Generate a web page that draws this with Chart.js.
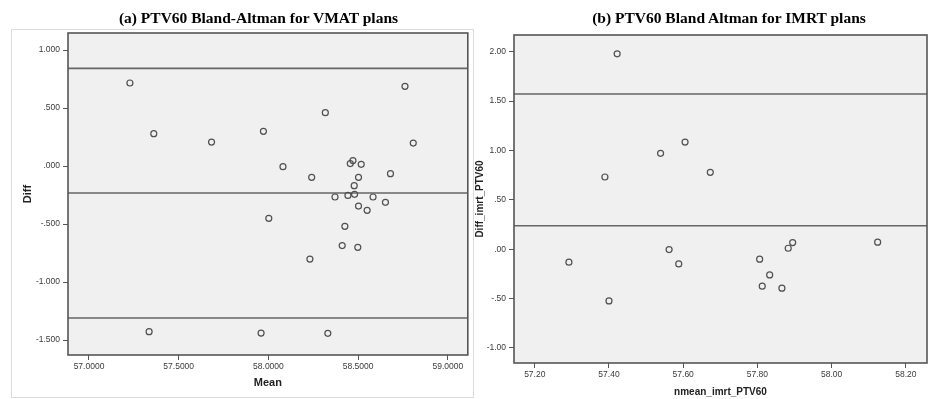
<!DOCTYPE html>
<html>
<head>
<meta charset="utf-8">
<script src="https://cdn.jsdelivr.net/npm/chart.js@4.4.0/dist/chart.umd.min.js"></script>
<style>
  html, body { margin: 0; padding: 0; background: #ffffff; }
  #wrap { position: relative; width: 935px; height: 399px; overflow: hidden; background: #fff; }
  canvas { position: absolute; top: 0; }
  .title { position: absolute; top: 10px; font-family: "Liberation Serif", "Times New Roman", serif; font-weight: bold; font-size: 15.5px; line-height: 15px; text-align: center; color: #000; white-space: nowrap; }
  #frameA { position: absolute; left: 11px; top: 29px; width: 461px; height: 367px; border: 1px solid #dcdcdc; }
</style>
</head>
<body>
<div id="wrap">
  <div id="frameA"></div>
  <canvas id="cA" width="472" height="399" style="left:0px;width:472px;height:399px"></canvas>
  <canvas id="cB" width="463" height="399" style="left:472px;width:463px;height:399px"></canvas>
  <div class="title" style="left:0px;width:517px;">(a) PTV60 Bland-Altman for VMAT plans</div>
  <div class="title" style="left:529px;width:400px;">(b) PTV60 Bland Altman for IMRT plans</div>
</div>
<script>
// ---------- Panel (a): VMAT ----------
const vmatMean = [57.228, 57.361, 57.683, 57.972, 58.317, 58.761, 58.807, 58.081, 58.241, 58.456,
                  58.471, 58.517, 58.502, 58.680, 58.478, 58.371, 58.443, 58.480, 58.583, 58.652,
                  58.502, 58.550, 58.002, 58.426, 58.411, 58.498, 58.231, 57.335, 57.959, 58.331];
const vmatDiff = [0.716, 0.279, 0.207, 0.299, 0.460, 0.687, 0.198, -0.005, -0.097, 0.021,
                  0.047, 0.015, -0.097, -0.066, -0.169, -0.267, -0.253, -0.244, -0.267, -0.313,
                  -0.345, -0.382, -0.451, -0.520, -0.686, -0.701, -0.802, -1.428, -1.440, -1.442];
const vmatLines = [0.842, -0.233, -1.310];   // upper LoA, mean diff, lower LoA
const vmatXTicks = [57.0, 57.5, 58.0, 58.5, 59.0];
const vmatXTickLabels = ['57.0000', '57.5000', '58.0000', '58.5000', '59.0000'];
const vmatYTicks = [1.0, 0.5, 0.0, -0.5, -1.0, -1.5];
const vmatYTickLabels = ['1.000', '.500', '.000', '-.500', '-1.000', '-1.500'];

// ---------- Panel (b): IMRT ----------
const imrtMean = [57.422, 57.389, 57.539, 57.605, 57.673, 57.292, 57.400, 57.562, 57.588, 57.806,
                  57.813, 57.833, 57.866, 57.883, 57.895, 58.124];
const imrtDiff = [1.978, 0.731, 0.971, 1.085, 0.779, -0.131, -0.523, -0.004, -0.149, -0.101,
                  -0.374, -0.260, -0.394, 0.010, 0.067, 0.071];
const imrtLines = [1.572, 0.238];            // upper LoA, mean diff
const imrtXTicks = [57.2, 57.4, 57.6, 57.8, 58.0, 58.2];
const imrtXTickLabels = ['57.20', '57.40', '57.60', '57.80', '58.00', '58.20'];
const imrtYTicks = [2.0, 1.5, 1.0, 0.5, 0.0, -0.5, -1.0];
const imrtYTickLabels = ['2.00', '1.50', '1.00', '.50', '.00', '-.50', '-1.00'];

const plotFrame = {
  id: 'plotFrame',
  beforeDraw(chart) {
    const a = chart.chartArea, ctx = chart.ctx;
    ctx.save();
    ctx.fillStyle = '#f0f0f0';
    ctx.fillRect(a.left, a.top, a.right - a.left, a.bottom - a.top);
    ctx.restore();
  },
  afterDraw(chart) {
    const a = chart.chartArea, ctx = chart.ctx;
    ctx.save();
    ctx.strokeStyle = '#555555';
    ctx.lineWidth = 1.6;
    ctx.strokeRect(a.left, a.top, a.right - a.left, a.bottom - a.top);
    ctx.restore();
  }
};

function makeChart(id, cfg) {
  const pts = cfg.xs.map((x, i) => ({ x: x, y: cfg.ys[i] }));
  const lineSets = cfg.lines.map(v => ({
    data: [{ x: cfg.xMin, y: v }, { x: cfg.xMax, y: v }],
    showLine: true, pointRadius: 0, borderColor: '#666666', borderWidth: 1.6, fill: false, order: 2
  }));
  const tickFont = { family: '"Liberation Sans", Arial, sans-serif', size: 8.5 };
  return new Chart(document.getElementById(id), {
    type: 'scatter',
    data: {
      datasets: lineSets.concat([{
        data: pts, pointRadius: 3, pointHoverRadius: 3, borderWidth: 1.2,
        borderColor: '#505050', backgroundColor: 'rgba(0,0,0,0)', order: 1
      }])
    },
    options: {
      responsive: false, animation: false, devicePixelRatio: 1,
      layout: { padding: cfg.padding },
      plugins: { legend: { display: false }, tooltip: { enabled: false }, title: { display: false } },
      scales: {
        x: {
          type: 'linear', min: cfg.xMin, max: cfg.xMax,
          afterBuildTicks: s => { s.ticks = cfg.xTicks.map(v => ({ value: v })); },
          afterFit: s => { s.height = cfg.xH; },
          grid: { drawOnChartArea: false, drawTicks: true, tickLength: 5, tickColor: '#555', lineWidth: 1 },
          border: { display: false },
          ticks: { font: tickFont, color: '#3a3a3a', padding: 2, maxRotation: 0, autoSkip: false,
                   callback: (v, i) => cfg.xLabels[i] },
          title: { display: true, text: cfg.xTitle, color: '#222',
                   font: { family: '"Liberation Sans", Arial, sans-serif', size: cfg.titleSize, weight: 'bold' },
                   padding: { top: 0, bottom: cfg.xTitlePad } }
        },
        y: {
          type: 'linear', min: cfg.yMin, max: cfg.yMax,
          afterBuildTicks: s => { s.ticks = cfg.yTicks.map(v => ({ value: v })); },
          afterFit: s => { s.width = cfg.yW; },
          grid: { drawOnChartArea: false, drawTicks: true, tickLength: 5, tickColor: '#555', lineWidth: 1 },
          border: { display: false },
          ticks: { font: tickFont, color: '#3a3a3a', padding: 3, autoSkip: false,
                   callback: (v, i) => cfg.yLabels[i] },
          title: { display: true, text: cfg.yTitle, color: '#222',
                   font: { family: '"Liberation Sans", Arial, sans-serif', size: cfg.titleSize, weight: 'bold' },
                   padding: { top: cfg.yTitlePad, bottom: 0 } }
        }
      }
    },
    plugins: [plotFrame]
  });
}

makeChart('cA', {
  xs: vmatMean, ys: vmatDiff, lines: vmatLines,
  xMin: 56.883, xMax: 59.111, yMin: -1.629, yMax: 1.147,
  xTicks: vmatXTicks, xLabels: vmatXTickLabels, yTicks: vmatYTicks, yLabels: vmatYTickLabels,
  xTitle: 'Mean', yTitle: 'Diff', titleSize: 11,
  padding: { left: 10, top: 33, right: 3, bottom: 0 }, yW: 58, xH: 44,
  xTitlePad: 9, yTitlePad: 11
});

makeChart('cB', {
  xs: imrtMean, ys: imrtDiff, lines: imrtLines,
  xMin: 57.144, xMax: 58.257, yMin: -1.152, yMax: 2.169,
  xTicks: imrtXTicks, xLabels: imrtXTickLabels, yTicks: imrtYTicks, yLabels: imrtYTickLabels,
  xTitle: 'nmean_imrt_PTV60', yTitle: 'Diff_imrt_PTV60', titleSize: 10,
  padding: { left: 2, top: 35, right: 8, bottom: 0 }, yW: 40, xH: 36,
  xTitlePad: 1, yTitlePad: 0
});
</script>
</body>
</html>
